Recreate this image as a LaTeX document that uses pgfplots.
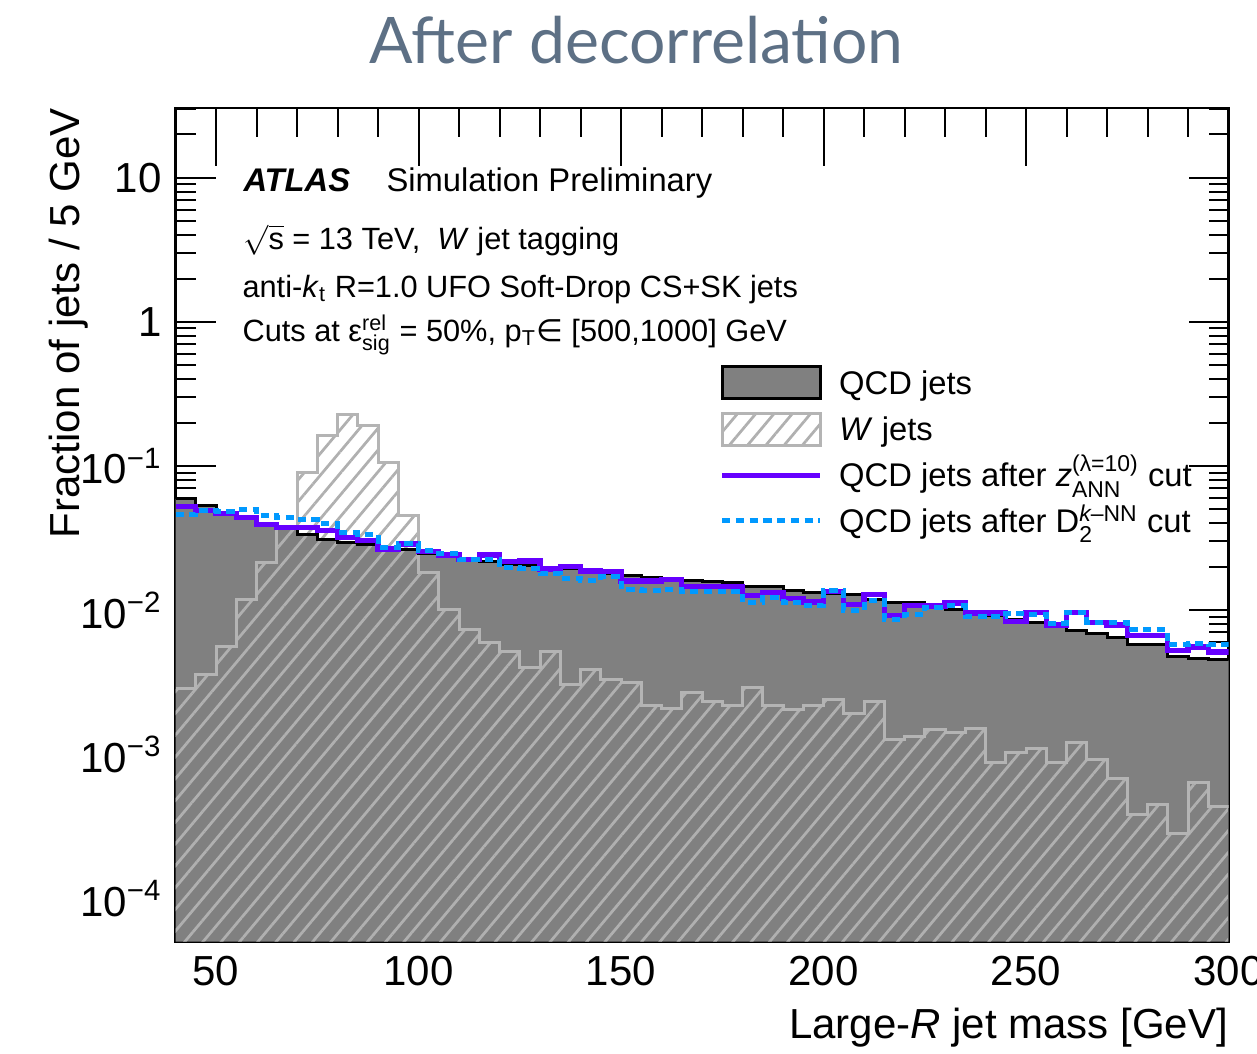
\documentclass[border=0pt]{standalone}
\usepackage{amsmath}
\usepackage{fontspec}
\setmainfont{Liberation Sans}
\newfontfamily\titlefont{Lato}
\newfontfamily\djv{DejaVu Sans}
\usepackage{pgfplots}
\usepackage{pgfplotstable}
\pgfplotsset{compat=1.18}
\usetikzlibrary{patterns.meta}

\definecolor{qcdgray}{RGB}{128,128,128}
\definecolor{wgray}{RGB}{180,180,180}
\definecolor{hatchgray}{RGB}{176,176,176}
\definecolor{annviolet}{RGB}{102,0,255}
\definecolor{knnblue}{RGB}{0,153,255}
\definecolor{titleblue}{RGB}{93,112,133}

% Normalised large-R jet mass distributions, 5 GeV bins (left bin edges; last row closes the histogram)
\pgfplotstableread{
x   qcd      w         zann     dknn
40  0.0592   0.00285   0.0521   0.0462
45  0.0530   0.00357   0.0492   0.0490
50  0.0476   0.00562   0.0467   0.0487
55  0.0441   0.0118    0.0441   0.0498
60  0.0400   0.0213    0.0391   0.0455
65  0.0369   0.0370    0.0375   0.0439
70  0.0336   0.0908    0.0375   0.0425
75  0.0310   0.163     0.0357   0.0398
80  0.0293   0.229     0.0320   0.0343
85  0.0286   0.192     0.0305   0.0334
90  0.0268   0.106     0.0266   0.0274
95  0.0264   0.0455    0.0288   0.0289
100 0.0249   0.0181    0.0256   0.0260
105 0.0236   0.0101    0.0241   0.0249
110 0.0223   0.00731   0.0225   0.0226
115 0.0218   0.00594   0.0241   0.0226
120 0.0206   0.00519   0.0218   0.0198
125 0.0203   0.00402   0.0219   0.0196
130 0.0198   0.00519   0.0193   0.0179
135 0.0193   0.00305   0.0201   0.0166
140 0.0187   0.00386   0.0187   0.0161
145 0.0180   0.00332   0.0186   0.0171
150 0.0173   0.00316   0.0159   0.0140
155 0.0169   0.00219   0.0159   0.0137
160 0.0163   0.00207   0.0163   0.0140
165 0.0161   0.00267   0.0146   0.0135
170 0.0159   0.00232   0.0146   0.0135
175 0.0156   0.00217   0.0146   0.0135
180 0.0147   0.00289   0.0126   0.0113
185 0.0146   0.00219   0.0132   0.0122
190 0.0137   0.00203   0.0120   0.0113
195 0.0133   0.00218   0.0114   0.0107
200 0.0130   0.00239   0.0135   0.0137
205 0.0128   0.00193   0.0110   0.00997
210 0.0119   0.00232   0.0128   0.0116
215 0.0113   0.00126   0.00914  0.00865
220 0.0113   0.00133   0.0108   0.00929
225 0.0110   0.00148   0.0107   0.0105
230 0.0101   0.00141   0.0112   0.0107
235 0.00964  0.00152   0.00955  0.00903
240 0.00914  0.00088   0.00955  0.00903
245 0.00855  0.00102   0.00830  0.00944
250 0.00818  0.00109   0.00964  0.00929
255 0.00773  0.00088   0.00787  0.00809
260 0.00723  0.00120   0.00964  0.00964
265 0.00684  0.000914  0.00822  0.00818
270 0.00647  0.00068   0.00787  0.00818
275 0.00579  0.000381  0.00665  0.00731
280 0.00573  0.00045   0.00665  0.00731
285 0.00476  0.000283  0.00525  0.00573
290 0.00465  0.00064   0.00555  0.00587
295 0.00451  0.000434  0.00513  0.00573
300 0.00451  0.000434  0.00513  0.00573
}\massdata

\tikzset{
  whatch/.style={pattern={Lines[angle=50,distance=5.6pt,line width=1.1pt]}, pattern color=hatchgray},
  annline/.style={annviolet, line width=2.1pt},
  knnline/.style={knnblue, line width=2pt, dash pattern=on 3.3pt off 2.2pt},
  infotext/.style={anchor=base west, inner sep=0pt},
}

\begin{document}
\begin{tikzpicture}
\useasboundingbox (0,0) rectangle (502.8pt,421.2pt);

\node[font=\titlefont\fontsize{25.7}{30}\selectfont, text=titleblue, anchor=base, inner sep=0pt]
  at (254.6pt,395.6pt) {After decorrelation};

\begin{axis}[
  at={(70.2pt,44.52pt)}, anchor=south west,
  scale only axis, width=421.2pt, height=333.48pt,
  xmin=40, xmax=300,
  ymode=log, ymin=5e-5, ymax=30.5, log origin y=infty,
  xtick={50,100,150,200,250,300},
  xticklabels={50,100,150,200,250,300},
  minor x tick num=4,
  ytick={1e-4,1e-3,1e-2,1e-1,1,10},
  yticklabels={10\textsuperscript{−4},10\textsuperscript{−3},10\textsuperscript{−2},10\textsuperscript{−1},1,10},
  minor ytick={6e-5,7e-5,8e-5,9e-5,
    2e-4,3e-4,4e-4,5e-4,6e-4,7e-4,8e-4,9e-4,
    2e-3,3e-3,4e-3,5e-3,6e-3,7e-3,8e-3,9e-3,
    0.02,0.03,0.04,0.05,0.06,0.07,0.08,0.09,
    0.2,0.3,0.4,0.5,0.6,0.7,0.8,0.9,
    2,3,4,5,6,7,8,9,20,30},
  tick align=inside,
  xtick pos=both, ytick pos=both,
  xtick style={black, line width=0.8pt, /pgfplots/major tick length=23.2pt, /pgfplots/minor tick length=11.6pt},
  ytick style={black, line width=0.8pt, /pgfplots/major tick length=16pt, /pgfplots/minor tick length=8pt},
  axis line style={line width=1pt},
  tick label style={font=\fontsize{16.8}{19}\selectfont},
  xticklabel style={yshift=-2.4pt},
  yticklabel style={xshift=-2pt},
  label style={font=\fontsize{16.8}{19}\selectfont, inner sep=0pt},
  xlabel={Large-\textit{R} jet mass [GeV]},
  xlabel style={at={(axis description cs:1,-0.1155)}, anchor=base east},
  ylabel={Fraction of jets / 5 GeV},
  ylabel style={at={(axis description cs:-0.0907,1)}, anchor=base east},
  legend style={draw=none, fill=none, inner sep=0pt,
    at={(axis description cs:0.5162,0.6925)}, anchor=north west,
    font=\fontsize{13.1}{15}\selectfont, row sep=4.7pt,
    nodes={text height=9.4pt, text depth=0pt, inner sep=2pt},
    cells={anchor=west}},
  legend cell align=left,
]

% QCD jets: grey filled histogram
\addplot[fill=qcdgray, draw=none, const plot,
  legend image code/.code={
    \draw[fill=qcdgray, draw=black, line width=1.2pt] (0pt,-6.4pt) rectangle (39.2pt,6.4pt);
    \path (43.8pt,0pt);}]
  table[x=x, y=qcd] {\massdata} \closedcycle;
\addlegendentry{QCD jets}

% W jets: hatched histogram
\addplot[whatch, draw=none, const plot,
  legend image code/.code={
    \draw[whatch, draw=wgray, line width=1.2pt] (0pt,-6.4pt) rectangle (39.2pt,6.4pt);
    \path (43.8pt,0pt);}]
  table[x=x, y=w] {\massdata} \closedcycle;
\addlegendentry{\textit{W} jets}

\addplot[wgray, line width=1.2pt, const plot, forget plot] table[x=x, y=w] {\massdata};
\addplot[black, line width=1.2pt, const plot, forget plot] table[x=x, y=qcd] {\massdata};

% QCD jets after the tagger cuts
\addplot[annline, const plot,
  legend image code/.code={
    \draw[annviolet, line width=2pt] (0pt,0pt) -- (39.2pt,0pt);
    \path (43.8pt,0pt);}]
  table[x=x, y=zann] {\massdata};
\addlegendentry{QCD jets after $\textit{z}^{\text{(λ=10)}}_{\text{ANN}}$ cut}

\addplot[knnline, const plot,
  legend image code/.code={
    \draw[knnline] (0pt,0pt) -- (39.2pt,0pt);
    \path (43.8pt,0pt);}]
  table[x=x, y=dknn] {\massdata};
\addlegendentry{QCD jets after D$^{\textit{k}\text{–NN}}_{\text{2}}$ cut}

% Labels
\node[infotext, font=\fontsize{13.1}{15}\selectfont] at (axis description cs:0.0641,0.8993)
  {{\bfseries\itshape ATLAS}};
\node[infotext, font=\fontsize{13.1}{15}\selectfont] at (axis description cs:0.1999,0.8993)
  {Simulation Preliminary};
\node[infotext, font=\fontsize{12.3}{15}\selectfont] at (axis description cs:0.0641,0.8297)
  {$\sqrt{\text{s}}$ = 13 TeV,\ \ \textit{W} jet tagging};
\node[infotext, font=\fontsize{12.3}{15}\selectfont] at (axis description cs:0.0632,0.7733)
  {anti-\textit{k}$_{\text{t}}$ R=1.0 UFO Soft-Drop CS+SK jets};
\node[infotext, font=\fontsize{12.3}{15}\selectfont] at (axis description cs:0.0632,0.7205)
  {Cuts at $\text{ε}^{\text{rel}}_{\text{sig}}$ = 50\%, p$_{\text{T}}${\djv ∈} [500,1000] GeV};
\end{axis}
\end{tikzpicture}
\end{document}
